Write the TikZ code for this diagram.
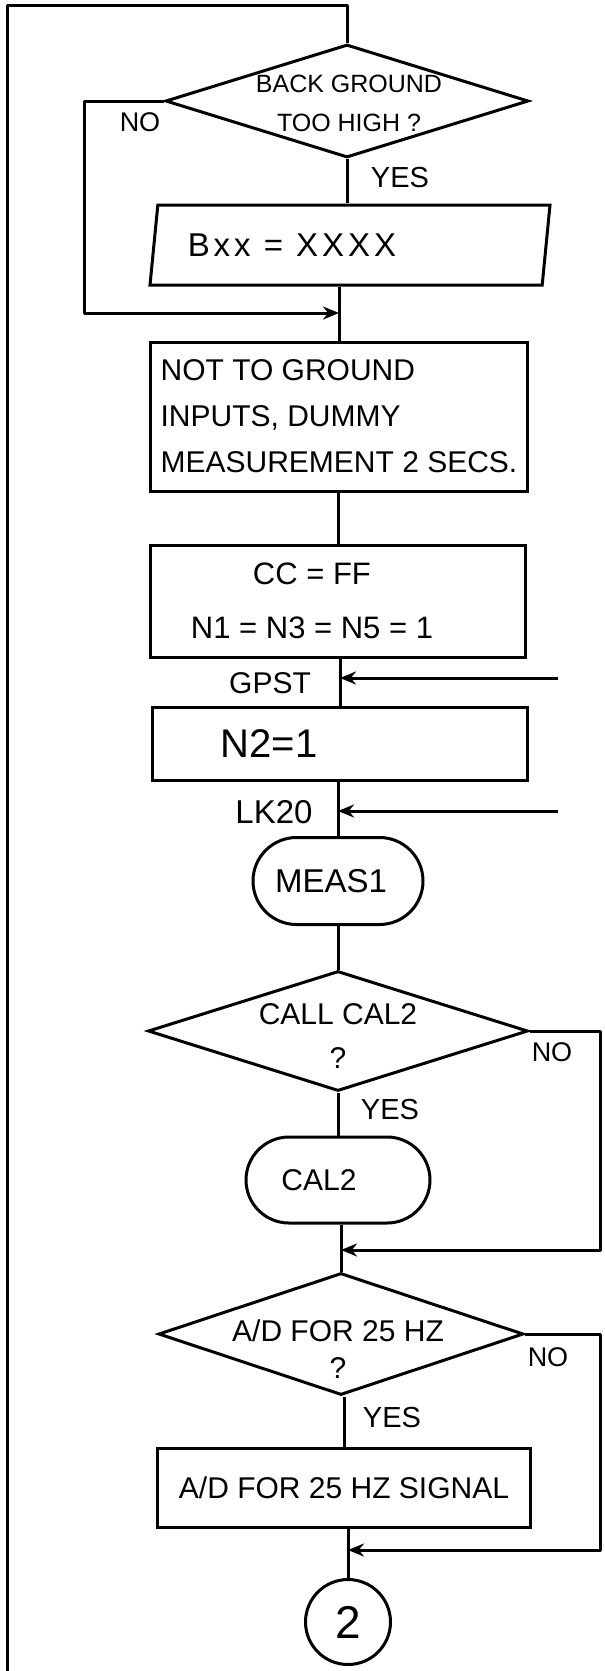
\documentclass[tikz,border=0pt]{standalone}
\usepackage{fontspec}
\setmainfont{Liberation Sans}
\usetikzlibrary{shapes.geometric,shapes.misc,arrows.meta}
\newcommand\fsz[2]{\fontsize{#1}{#2}\selectfont}
\tikzset{
  flow/.style={line width=3pt, line join=round},
  arr/.style={flow, -{Stealth[length=16pt,width=13pt]}},
  boxnode/.style={draw, rectangle, line width=3pt, inner sep=0pt},
  decision/.style={draw, diamond, line width=3pt, inner sep=0pt},
  stadium/.style={draw, rounded rectangle, line width=3pt, inner sep=0pt},
  lbl/.style={inner sep=0pt},
}
\begin{document}
\begin{tikzpicture}[x=1pt, y=-1pt]
\useasboundingbox (0,0) rectangle (605,1671);

% shapes
\node[decision, minimum width=363pt, minimum height=113pt] (d1) at (347,101) {};
\node[lbl, align=center, font=\fsz{25}{39}] (d1t) at (349,103) {BACK GROUND\\TOO HIGH ?};

\node[draw, trapezium, trapezium left angle=71, trapezium right angle=109,
      trapezium stretches body, line width=3pt, inner sep=0pt,
      minimum width=400pt, minimum height=80pt] (par) at (350,245)
      {\fsz{33}{38}{\addfontfeature{LetterSpace=12}Bxx = XXXX}\rule{116pt}{0pt}};

\node[boxnode, minimum width=377pt, minimum height=149pt, align=left, font=\fsz{30}{46}]
      (box1) at (339,416.5) {NOT TO GROUND\\INPUTS, DUMMY\\MEASUREMENT 2 SECS.};

\node[boxnode, minimum width=375pt, minimum height=112pt, align=left, font=\fsz{31}{54}]
      (box2) at (338,601) {\rule{62pt}{0pt}CC = FF\\N1 = N3 = N5 = 1\rule{52pt}{0pt}};

\node[boxnode, minimum width=375pt, minimum height=73pt]
      (box3) at (340,743.5) {{\fsz{40}{44}N2=1}\rule{142pt}{0pt}};

\node[stadium, minimum width=170pt, minimum height=87pt] (meas1) at (338,881)
      {{\fsz{33}{38}MEAS1}\rule{14pt}{0pt}};

\node[decision, minimum width=380pt, minimum height=120pt] (d2) at (338,1031) {};
\node[lbl, align=center, font=\fsz{30}{44}] (d2t) at (338,1036) {CALL CAL2\\?};

\node[stadium, minimum width=184pt, minimum height=86pt] (cal2) at (338,1180)
      {{\fsz{30}{34}CAL2}\rule{38pt}{0pt}};

\node[decision, minimum width=365pt, minimum height=122pt] (d3) at (341,1334) {};
\node[lbl, align=center, font=\fsz{30}{37}] (d3t) at (338,1349) {A/D FOR 25 HZ\\?};

\node[boxnode, minimum width=373pt, minimum height=79pt, font=\fsz{30}{36}]
      (box4) at (344,1487.5) {A/D FOR 25 HZ SIGNAL};

\node[draw, circle, line width=3pt, minimum size=85pt, inner sep=0pt] (circ) at (348,1622)
      {\fsz{46}{50}2};

% labels
\node[lbl, font=\fsz{27}{30}] (no1) at (140,122) {NO};
\node[lbl, font=\fsz{29}{32}] (yes1) at (400,178) {YES};
\node[lbl, font=\fsz{27}{30}] (no2) at (552,1052) {NO};
\node[lbl, font=\fsz{29}{32}] (yes2) at (390,1110) {YES};
\node[lbl, font=\fsz{27}{30}] (no3) at (548,1357) {NO};
\node[lbl, font=\fsz{29}{32}] (yes3) at (392,1417) {YES};
\node[lbl, font=\fsz{30}{34}] (gpst) at (270,683) {GPST};
\node[lbl, font=\fsz{33}{36}] (lk20) at (274,812) {LK20};

% coordinates
\coordinate (lb) at (7,1680);
\coordinate (lt) at (7,5);
\coordinate (j1) at (339,313);
\coordinate (gR) at (558,678);
\coordinate (lR) at (558,811);
\coordinate (r2) at (600,1250);
\coordinate (r3) at (600,1550);

% connectors
\draw[flow] (lb) -- (lt) -| (d1.north);
\draw[flow] (d1.south) -- (d1.south |- par.north);
\draw[arr] (d1.west) -- ++(-80,0) |- (j1);
\draw[flow] (box1.north |- par.south) -- (box1.north);
\draw[flow] (box2.north |- box1.south) -- (box2.north);
\draw[flow] (box3.north |- box2.south) -- (box3.north);
\draw[arr] (gR) -- (gR -| box3.north);
\draw[flow] (meas1.north |- box3.south) -- (meas1.north);
\draw[arr] (lR) -- (lR -| meas1.north);
\draw[flow] (meas1.south) -- (d2.north);
\draw[flow] (d2.south) -- (cal2.north);
\draw[flow] (d3.north |- cal2.south) -- (d3.north);
\draw[arr] (d2.east) -| (r2) -- (r2 -| d3.north);
\draw[flow] (box4.north |- d3.south) -- (box4.north);
\draw[flow] (circ.north |- box4.south) -- (circ.north);
\draw[arr] (d3.east) -| (r3) -- (r3 -| circ.north);
\end{tikzpicture}
\end{document}
